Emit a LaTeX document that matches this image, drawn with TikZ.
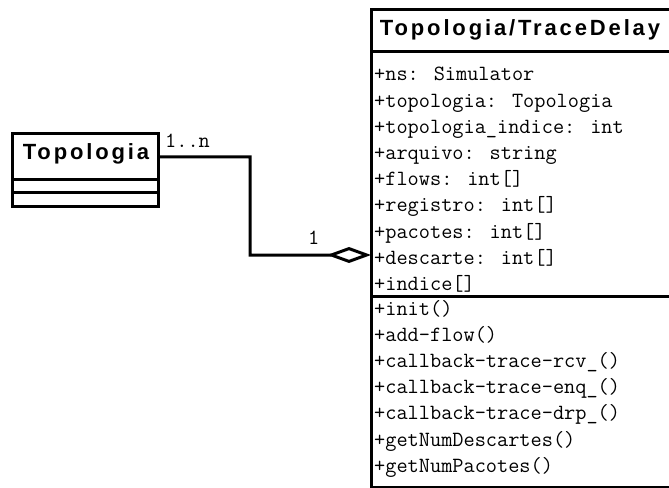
\documentclass[tikz,border=0pt]{standalone}
\usepackage{fontspec}
\setmainfont{Liberation Sans}
\newfontfamily\headfont[LetterSpace=13]{Liberation Sans}
\usetikzlibrary{arrows.meta}
\begin{document}
\begin{tikzpicture}[x=1bp,y=-1bp,
  border/.style={draw,line width=3bp,inner sep=0pt,outer sep=0pt,anchor=north west},
  classhead/.style={font=\headfont\bfseries\fontsize{22bp}{26bp}\selectfont,inner sep=0pt,anchor=base},
  member/.style={font=\ttfamily\fontsize{21.7bp}{25bp}\selectfont,inner sep=0pt,anchor=base west},
  assoc/.style={line width=3bp,line join=miter,-{Diamond[open,length=44bp,width=16bp]}}]
\clip (0,0) rectangle (669,488);

% class Topologia: name, attribute and operation compartments
\node[border,minimum width=146bp,minimum height=46bp] (topo) at (12,134) {};
\node[border,minimum width=146bp,minimum height=13bp] (topoattr) at (topo.south west) {};
\node[border,minimum width=146bp,minimum height=13bp] (topoops) at (topoattr.south west) {};
\node[classhead] (topotitle) at (86,160) {Topologia};

% class Topologia/TraceDelay
\node[border,minimum width=300bp,minimum height=477.5bp] (td) at (371,9.5) {};
\draw[line width=3bp] (td.west |- 0,52) -- (td.east |- 0,52);
\draw[line width=3bp] (td.west |- 0,296.5) -- (td.east |- 0,296.5);
\node[classhead] (tdtitle) at (520,36) {Topologia/TraceDelay};

\foreach [count=\i] \t in {+ns: Simulator,+topologia: Topologia,+topologia\_indice: int,+arquivo: string,+flows: int[],+registro: int[],+pacotes: int[],+descarte: int[],+indice[]}
  \node[member] (attr\i) at (374,{81+26.2*(\i-1)}) {\t};

\foreach [count=\i] \t in {+init(),+add-flow(),+callback-trace-rcv\_(),+callback-trace-enq\_(),+callback-trace-drp\_(),+getNumDescartes(),+getNumPacotes()}
  \node[member] (op\i) at (374,{315+26.2*(\i-1)}) {\t};

% aggregation between the two classes
\coordinate (knee) at (250,157);
\coordinate (agg) at (td.west |- 0,255);
\draw[assoc] (topo.east) -- (knee) |- (agg);
\node[member] (multmany) at (165,148) {1..n};
\node[member] (multone) at (308,245) {1};
\end{tikzpicture}
\end{document}
